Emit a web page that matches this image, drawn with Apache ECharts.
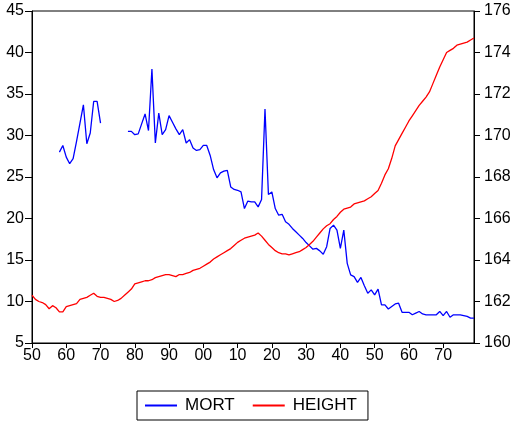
<!DOCTYPE html>
<html><head><meta charset="utf-8">
<script src="https://cdn.jsdelivr.net/npm/echarts@6/dist/echarts.min.js"></script>
<style>html,body{margin:0;padding:0;background:#fff}#c{width:521px;height:426px}</style>
</head><body><div id="c"></div>
<script>
var startYear = 1850, endYear = 1979;
var years = [];
for (var y = startYear; y <= endYear; y++) years.push(y);

// MORT: 1858-1870, gap, 1878-1979
var mortEarlyStart = 1858;
var mortEarly = [28.0,28.8,27.4,26.6,27.2,29.3,31.5,33.7,29.0,30.3,34.1,34.1,31.5];
var mortLateStart = 1878;
var mortLate = [30.5,30.5,30.1,30.2,31.4,32.6,30.6,38.0,29.1,32.7,30.1,30.7,32.4,31.6,30.8,30.1,30.7,29.1,29.5,28.5,28.2,28.3,
  28.8,28.8,27.6,25.9,24.9,25.5,25.7,25.8,23.8,23.5,23.4,23.2,21.2,22.1,22.0,22.0,21.4,22.3,33.2,22.9,
  23.2,21.2,20.4,20.5,19.6,19.3,18.8,18.4,18.0,17.6,17.1,16.7,16.3,16.4,16.1,15.7,16.6,18.8,19.2,18.6,
  16.4,18.6,14.6,13.2,13.0,12.3,12.9,11.9,11.0,11.4,10.8,11.5,9.6,9.6,9.1,9.4,9.7,9.8,8.7,8.7,
  8.7,8.4,8.6,8.8,8.5,8.4,8.4,8.4,8.4,8.8,8.3,8.8,8.1,8.4,8.4,8.4,8.3,8.2,8.0,8.0];

// HEIGHT: 1850-1979
var height = [162.3,162.1,162.0,161.95,161.85,161.65,161.8,161.7,161.5,161.5,
  161.75,161.8,161.85,161.9,162.1,162.15,162.2,162.3,162.4,162.25,
  162.2,162.2,162.15,162.1,162.0,162.05,162.15,162.3,162.45,162.6,
  162.85,162.9,162.95,163.0,163.0,163.05,163.15,163.2,163.25,163.3,
  163.3,163.25,163.2,163.3,163.3,163.35,163.4,163.5,163.55,163.6,
  163.7,163.8,163.9,164.05,164.15,164.25,164.35,164.45,164.55,164.7,
  164.85,164.95,165.05,165.1,165.15,165.2,165.3,165.15,164.95,164.75,
  164.6,164.45,164.35,164.3,164.3,164.25,164.3,164.35,164.4,164.5,
  164.6,164.75,164.9,165.1,165.3,165.5,165.65,165.75,165.95,166.1,
  166.3,166.45,166.5,166.55,166.7,166.75,166.8,166.85,166.95,167.05,
  167.2,167.35,167.7,168.1,168.4,168.9,169.5,169.8,170.1,170.4,
  170.7,170.95,171.2,171.45,171.65,171.85,172.1,172.5,172.9,173.3,
  173.65,174.0,174.1,174.2,174.35,174.4,174.45,174.5,174.6,174.7];

var mort = years.map(function(){ return null; });
mortEarly.forEach(function(v,i){ mort[mortEarlyStart - startYear + i] = v; });
mortLate.forEach(function(v,i){ mort[mortLateStart - startYear + i] = v; });

var cats = years.map(String);
var font = 'Liberation Sans, Arial, sans-serif';
var chart = echarts.init(document.getElementById('c'), null, {renderer:'canvas'});
chart.setOption({
  animation: false,
  backgroundColor: '#fff',
  grid: {left: 32, right: 47, top: 11, bottom: 83, show: true, borderColor: '#000', borderWidth: 1, backgroundColor: 'transparent'},
  xAxis: {
    type: 'category', data: cats, boundaryGap: false,
    axisLine: {lineStyle: {color: '#000', width: 1}},
    axisTick: {show: true, inside: false, length: 5, lineStyle:{color:'#000'},
      interval: function(i, v){ return (+v) % 10 === 0; }},
    axisLabel: {color: '#000', fontFamily: font, fontSize: 16, margin: 5,
      interval: function(i, v){ return (+v) % 10 === 0; },
      formatter: function(v){ var n = (+v) % 100; return (n < 10 ? '0' : '') + n; }},
    splitLine: {show: false}
  },
  yAxis: [
    {type: 'value', min: 5, max: 45, interval: 5, position: 'left',
     axisLine: {show: true, lineStyle: {color: '#000'}},
     axisTick: {show: true, length: 7, lineStyle:{color:'#000'}},
     axisLabel: {color: '#000', fontFamily: font, fontSize: 16, margin: 8},
     splitLine: {show: false}},
    {type: 'value', min: 160, max: 176, interval: 2, position: 'right',
     axisLine: {show: true, lineStyle: {color: '#000'}},
     axisTick: {show: true, length: 6, lineStyle:{color:'#000'}},
     axisLabel: {color: '#000', fontFamily: font, fontSize: 16, margin: 10},
     splitLine: {show: false}}
  ],
  legend: {
    left: 137, top: 391, orient: 'horizontal',
    borderColor: '#000', borderWidth: 1, padding: [6, 11, 6, 8],
    itemWidth: 32, itemHeight: 2, itemGap: 18, icon: 'rect',
    textStyle: {color: '#000', fontFamily: font, fontSize: 17, padding: [0, 0, 0, 3]},
    data: ['MORT', 'HEIGHT']
  },
  series: [
    {name: 'MORT', type: 'line', yAxisIndex: 0, data: mort, connectNulls: false,
     showSymbol: false, symbol: 'none', lineStyle: {color: '#0000ff', width: 1.3}, itemStyle: {color: '#0000ff'}},
    {name: 'HEIGHT', type: 'line', yAxisIndex: 1, data: height,
     showSymbol: false, symbol: 'none', lineStyle: {color: '#ff0000', width: 1.3}, itemStyle: {color: '#ff0000'}}
  ]
});
</script></body></html>
